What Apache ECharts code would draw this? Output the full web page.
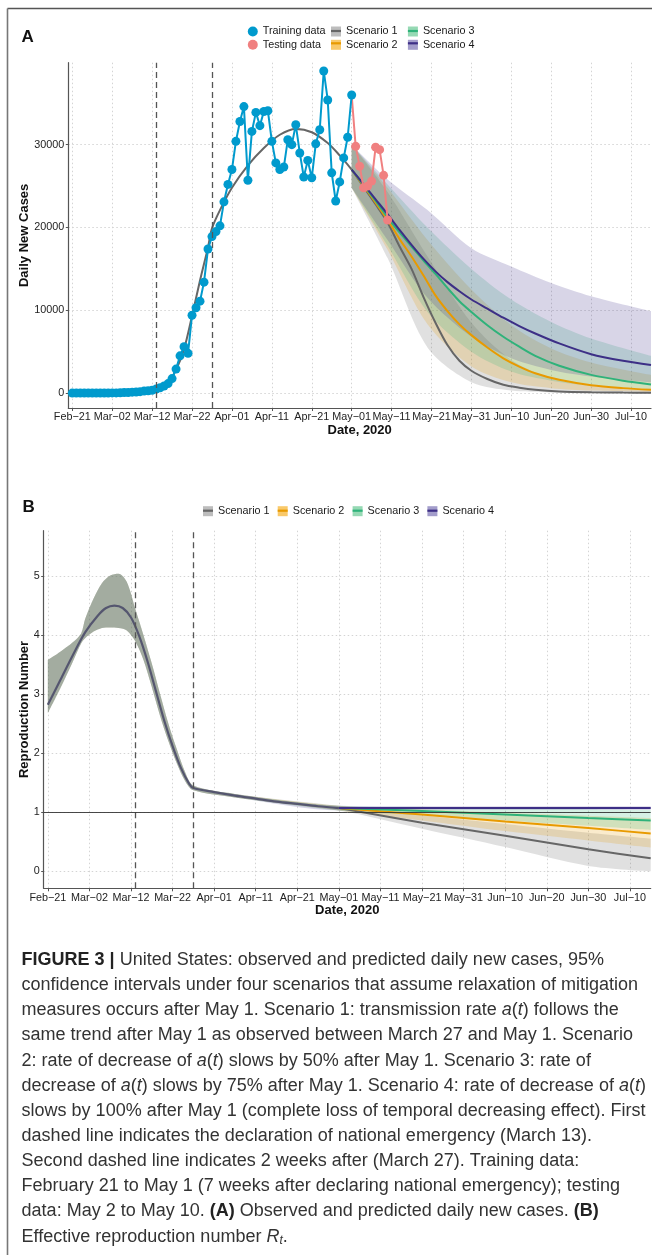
<!DOCTYPE html>
<html><head><meta charset="utf-8">
<script src="https://cdn.jsdelivr.net/npm/echarts@6/dist/echarts.min.js"></script>
<style>html,body{margin:0;padding:0;background:#fff}#c{width:652px;height:1255px}</style>
</head><body><div id="c"></div>
<script>
// ---------------- DATA ----------------
const tickLabels = ['Feb−21','Mar−02','Mar−12','Mar−22','Apr−01','Apr−11','Apr−21','May−01','May−11','May−21','May−31','Jun−10','Jun−20','Jun−30','Jul−10'];
const dashedDays = [21, 35]; // Mar 13, Mar 27 (days after Feb 21)

// Panel A: daily new cases; training = days 0..70 (Feb 21 .. May 1)
const trainingCases = [
  0, 1, 0, 0, 1, 2, 3, 5, 8, 12,
  20, 25, 30, 65, 75, 110, 130, 170, 240, 290, 330,
  480, 650, 850, 1150, 1750, 2900, 4500, 5600, 4800, 9400,
  10300, 11100, 13400, 17400, 18900, 19500, 20200, 23100, 25200, 27000,
  30400, 32800, 34600, 25700, 31600, 33900, 32300, 34000, 34100, 30400,
  27800, 27000, 27300, 30600, 30000, 32400, 29000, 26100, 28100, 26000,
  30100, 31800, 38900, 35400, 26600, 23200, 25500, 28400, 30900, 36000
];
// testing = days 71..79 (May 2 .. May 10)
const testingCases = [29800, 27400, 24800, 25000, 25600, 29700, 29400, 26300, 20900];

// fitted curve before May 1
const fitDays  = [0, 10, 16, 20, 22, 24, 26, 28, 30, 32, 34, 35, 37, 40, 44, 48, 52, 56, 60, 64, 67, 70];
const fitCases = [0, 20, 80, 250, 600, 1300, 2800, 5300, 9300, 13600, 17600, 19900, 22100, 24800, 27500, 29600, 31200, 31900, 31500, 30200, 28700, 27000];

// projections after May 1
const projDays = [70, 73, 76, 79, 82, 85, 88, 91, 94, 97, 100, 104, 108, 112, 116, 122, 130, 138, 145];
const s1Cases = [27000, 24900, 22800, 20600, 17700, 15000, 11600, 8500, 5800, 3900, 2700, 1700, 1000, 650, 400, 200, 100, 60, 40];
const s2Cases = [27000, 25000, 23000, 20900, 18600, 16500, 14200, 11800, 9900, 8300, 7000, 5500, 4200, 3200, 2400, 1600, 950, 600, 400];
const s3Cases = [27000, 25100, 23200, 21200, 19400, 17700, 16000, 14400, 12700, 11100, 9800, 8200, 6800, 5600, 4500, 3300, 2200, 1500, 1050];
const s4Cases = [27000, 25200, 23400, 21600, 19700, 17900, 16200, 14700, 13400, 12300, 11300, 10200, 9100, 8100, 7200, 6000, 4700, 3900, 3400];

// 95% bands, panel A
const bandDaysA = [70, 79, 89, 100, 110, 120, 130, 145];
const s1LowA  = [24800, 16300, 5500, 1300, 300, 80, 20, 0];
const s1HighA = [30000, 24300, 16500, 8500, 4000, 1800, 900, 400];
const s2LowA  = [24800, 17300, 8300, 3200, 1300, 600, 300, 150];
const s2HighA = [30000, 24800, 18500, 12500, 8200, 5400, 3700, 2200];
const s3LowA  = [24800, 17800, 9800, 5000, 2600, 1500, 900, 500];
const s3HighA = [30000, 25200, 20000, 15000, 11300, 8600, 6600, 4500];
const s4LowA  = [24800, 18500, 11500, 6800, 4200, 2800, 2000, 1300];
const s4HighA = [30000, 25800, 22100, 17500, 15300, 13300, 11700, 9900];

// Panel B: reproduction number, common part before May 1
const rtDays = [0, 3, 6, 9, 12, 14, 16, 18, 20, 22, 24, 26, 28, 30, 32, 34, 35, 40, 45, 50, 55, 60, 65, 70];
const rtLine = [2.82, 3.24, 3.66, 4.05, 4.33, 4.46, 4.50, 4.46, 4.30, 3.98, 3.55, 3.05, 2.55, 2.12, 1.75, 1.48, 1.41, 1.34, 1.28, 1.23, 1.18, 1.14, 1.10, 1.07];
const rtBandDays = [0, 3, 6, 8, 9, 11, 13, 15, 17, 19, 21, 23, 25, 27, 29, 31, 33, 35, 45, 70];
const rtLow  = [2.68, 3.10, 3.55, 3.86, 3.95, 4.06, 4.12, 4.13, 4.12, 4.08, 3.90, 3.58, 3.12, 2.63, 2.20, 1.83, 1.53, 1.37, 1.25, 1.03];
const rtHigh = [3.58, 3.72, 3.88, 4.03, 4.28, 4.62, 4.88, 5.01, 5.04, 4.90, 4.45, 4.00, 3.52, 3.00, 2.50, 2.07, 1.68, 1.45, 1.31, 1.11];
// after May 1
const projDaysB = [70, 90, 110, 130, 145];
const s1Rt = [1.07, 0.82, 0.60, 0.37, 0.22];
const s2Rt = [1.07, 0.96, 0.84, 0.73, 0.64];
const s3Rt = [1.07, 1.02, 0.96, 0.90, 0.86];
const s4Rt = [1.07, 1.07, 1.07, 1.07, 1.07];
const s1RtLow = [1.03, 0.72, 0.41, 0.09, 0.00], s1RtHigh = [1.11, 0.95, 0.80, 0.65, 0.55];
const s2RtLow = [1.03, 0.86, 0.68, 0.52, 0.40], s2RtHigh = [1.11, 1.05, 0.99, 0.94, 0.90];
const s3RtLow = [1.03, 0.95, 0.86, 0.77, 0.70], s3RtHigh = [1.11, 1.09, 1.07, 1.05, 1.04];
const s4RtLow = [1.03, 1.04, 1.04, 1.04, 1.04], s4RtHigh = [1.11, 1.10, 1.10, 1.10, 1.10];

const scenarioNames = ['Scenario 1', 'Scenario 2', 'Scenario 3', 'Scenario 4'];

// ---------------- STYLE ----------------
const FONT = "'Liberation Sans', Arial, Helvetica, sans-serif";
const C_TRAIN = '#009ACD', C_TEST = '#F08080';
const C_LINE = ['#666666', '#E89A00', '#2FB27A', '#3D2F86'];
const C_KEY  = ['#BDBDBD', '#F9C96A', '#96D9B4', '#A39DCB'];
const BAND_OP = 0.2;

// categories: one per day, Feb 20 .. Jul 15, 2020
const MONTHS = ['Jan','Feb','Mar','Apr','May','Jun','Jul','Aug','Sep','Oct','Nov','Dec'];
const categories = [];
for (let i = 0; i < 147; i++) {
  const d = new Date(Date.UTC(2020, 1, 20 + i));
  categories.push(MONTHS[d.getUTCMonth()] + '−' + String(d.getUTCDate()).padStart(2, '0'));
}
const idx = d => d + 1;
const pairs = (days, vals) => days.map((d, i) => [idx(d), vals[i]]);
const isTick = (i, v) => tickLabels.indexOf(v !== undefined ? v : categories[i]) >= 0;

function band(name, gi, days, lo, hi, color, stackId) {
  return [
    { type: 'line', name, xAxisIndex: gi, yAxisIndex: gi, stack: stackId, data: pairs(days, lo),
      symbol: 'none', smooth: 0.3, lineStyle: { width: 0, opacity: 0 }, silent: true, z: 1 },
    { type: 'line', name, xAxisIndex: gi, yAxisIndex: gi, stack: stackId, data: pairs(days, hi.map((h, i) => h - lo[i])),
      symbol: 'none', smooth: 0.3, lineStyle: { width: 0, opacity: 0 }, areaStyle: { color, opacity: BAND_OP }, silent: true, z: 1 }
  ];
}
function xAxisFor(gi, gap) {
  return {
    type: 'category', gridIndex: gi, data: categories, boundaryGap: false,
    axisLine: { show: true, onZero: false, lineStyle: { color: '#555', width: 1.2 } },
    axisTick: { show: true, interval: isTick, length: 3, lineStyle: { color: '#555' } },
    axisLabel: { interval: isTick, fontSize: 10.8, color: '#222', margin: 4, fontFamily: FONT },
    splitLine: { show: true, interval: isTick, lineStyle: { color: '#d4d4d4', type: [1.5, 2.5], width: 1 } },
    name: 'Date, 2020', nameLocation: 'middle', nameGap: gap, nameMoveOverlap: false,
    nameTextStyle: { fontWeight: 'bold', fontSize: 13, color: '#111', fontFamily: FONT }
  };
}
function yAxisFor(gi, min, max, split, name, gap) {
  return {
    type: 'value', gridIndex: gi, min, max, splitNumber: split,
    axisLine: { show: true, lineStyle: { color: '#555', width: 1.2 } },
    axisTick: { show: true, length: 2.5, lineStyle: { color: '#555' } },
    axisLabel: { showMinLabel: false, showMaxLabel: false, fontSize: 10.8, color: '#222', margin: 4,
                 fontFamily: FONT, formatter: v => String(v) },
    splitLine: { show: true, showMinLine: false, showMaxLine: false,
                 lineStyle: { color: '#d4d4d4', type: [1.5, 2.5], width: 1 } },
    name, nameLocation: 'middle', nameGap: gap, nameMoveOverlap: false,
    nameTextStyle: { fontWeight: 'bold', fontSize: 13, color: '#111', fontFamily: FONT }
  };
}
const dashed = {
  silent: true, symbol: ['none', 'none'], label: { show: false },
  lineStyle: { type: [6, 4], color: '#555', width: 1.3 },
  data: dashedDays.map(d => ({ xAxis: idx(d) }))
};

const series = [];
// ---- Panel A ----
const bandsA = [[s1LowA, s1HighA], [s2LowA, s2HighA], [s3LowA, s3HighA], [s4LowA, s4HighA]];
bandsA.forEach((b, k) => series.push(...band(scenarioNames[k], 0, bandDaysA, b[0], b[1], C_LINE[k], 'bandA' + k)));
[s1Cases, s2Cases, s3Cases, s4Cases].forEach((vals, k) => series.push({
  type: 'line', name: scenarioNames[k], xAxisIndex: 0, yAxisIndex: 0, data: pairs(projDays, vals),
  symbol: 'none', smooth: 0.3, lineStyle: { color: C_LINE[k], width: 2 }, itemStyle: { color: C_LINE[k] }, silent: true, z: 2
}));
series.push({
  type: 'line', name: 'Fitted', xAxisIndex: 0, yAxisIndex: 0, data: pairs(fitDays, fitCases),
  symbol: 'none', smooth: 0.3, lineStyle: { color: C_LINE[0], width: 2 }, silent: true, z: 2, markLine: dashed
});
series.push({
  type: 'line', name: 'Testing data', xAxisIndex: 0, yAxisIndex: 0,
  data: [{ value: [idx(70), trainingCases[70]], symbol: 'none' }].concat(testingCases.map((v, i) => [idx(71 + i), v])),
  symbol: 'circle', symbolSize: 9, showAllSymbol: true,
  itemStyle: { color: C_TEST }, lineStyle: { color: C_TEST, width: 2 }, silent: true, z: 3
});
series.push({
  type: 'line', name: 'Training data', xAxisIndex: 0, yAxisIndex: 0,
  data: trainingCases.map((v, d) => [idx(d), v]),
  symbol: 'circle', symbolSize: 9, showAllSymbol: true,
  itemStyle: { color: C_TRAIN }, lineStyle: { color: C_TRAIN, width: 2 }, silent: true, z: 4
});
// ---- Panel B ----
const postB = [[s1RtLow, s1RtHigh, s1Rt], [s2RtLow, s2RtHigh, s2Rt], [s3RtLow, s3RtHigh, s3Rt], [s4RtLow, s4RtHigh, s4Rt]];
const preBandDays = rtBandDays.slice(0, -1);
postB.forEach((b, k) => {
  series.push(...band(scenarioNames[k], 1, preBandDays.concat(projDaysB),
    rtLow.slice(0, -1).concat(b[0]), rtHigh.slice(0, -1).concat(b[1]), C_LINE[k], 'bandB' + k));
});
postB.forEach((b, k) => series.push({
  type: 'line', name: scenarioNames[k], xAxisIndex: 1, yAxisIndex: 1, data: pairs(projDaysB, b[2]),
  symbol: 'none', smooth: 0.2, lineStyle: { color: C_LINE[k], width: 2 }, silent: true, z: 2
}));
series.push({
  type: 'line', name: 'Rt fitted', xAxisIndex: 1, yAxisIndex: 1, data: pairs(rtDays, rtLine),
  symbol: 'none', smooth: 0.3, lineStyle: { color: '#55566f', width: 2.2 }, silent: true, z: 3,
  markLine: {
    silent: true, symbol: ['none', 'none'], label: { show: false },
    data: [
      ...dashedDays.map(d => ({ xAxis: idx(d), lineStyle: { type: [6, 4], color: '#555', width: 1.3 } })),
      { yAxis: 1, lineStyle: { type: 'solid', color: '#333', width: 0.9 } }
    ]
  }
});

// ---------------- LEGENDS ----------------
const legText = { fontSize: 10.8, color: '#1a1a1a', fontFamily: FONT };
function leg(left, top, items, orient) {
  return { left, top, orient: orient || 'vertical', padding: 0, itemWidth: 10, itemHeight: 10, itemGap: 2.3,
           selectedMode: false, textStyle: legText, data: items };
}
const keyItem = k => ({ name: scenarioNames[k], icon: 'rect', itemStyle: { color: C_KEY[k], borderWidth: 0 } });
const legends = [
  leg(247.8, 26, [{ name: 'Training data', icon: 'circle', itemStyle: { color: C_TRAIN } },
                  { name: 'Testing data', icon: 'circle', itemStyle: { color: C_TEST } }]),
  leg(331, 26, [keyItem(0), keyItem(1)]),
  leg(407.9, 26, [keyItem(2), keyItem(3)]),
  leg(203, 505.7, [keyItem(0)], 'horizontal'),
  leg(277.7, 505.7, [keyItem(1)], 'horizontal'),
  leg(352.6, 505.7, [keyItem(2)], 'horizontal'),
  leg(427.4, 505.7, [keyItem(3)], 'horizontal')
];
const keyLines = [[331, 31, 0], [331, 43.3, 1], [407.9, 31, 2], [407.9, 43.3, 3],
                  [203, 510.7, 0], [277.7, 510.7, 1], [352.6, 510.7, 2], [427.4, 510.7, 3]]
  .map(([x, y, k]) => ({ type: 'rect', z: 100, shape: { x, y: y - 1.1, width: 10, height: 2.2 }, style: { fill: C_LINE[k] } }));

// ---------------- CAPTION ----------------
const captionLines = [
  '{b|FIGURE 3 |}{n| United States: observed and predicted daily new cases, 95%}',
  '{n|confidence intervals under four scenarios that assume relaxation of mitigation}',
  '{n|measures occurs after May 1. Scenario 1: transmission rate }{i|a}{n|(}{i|t}{n|) follows the}',
  '{n|same trend after May 1 as observed between March 27 and May 1. Scenario}',
  '{n|2: rate of decrease of }{i|a}{n|(}{i|t}{n|) slows by 50% after May 1. Scenario 3: rate of}',
  '{n|decrease of }{i|a}{n|(}{i|t}{n|) slows by 75% after May 1. Scenario 4: rate of decrease of }{i|a}{n|(}{i|t}{n|)}',
  '{n|slows by 100% after May 1 (complete loss of temporal decreasing effect). First}',
  '{n|dashed line indicates the declaration of national emergency (March 13).}',
  '{n|Second dashed line indicates 2 weeks after (March 27). Training data:}',
  '{n|February 21 to May 1 (7 weeks after declaring national emergency); testing}',
  '{n|data: May 2 to May 10. }{b|(A)}{n| Observed and predicted daily new cases. }{b|(B)}',
  '{n|Effective reproduction number }{i|R}{sub|t}{n|.}'
];
const CAP_FS = 18, CAP_COLOR = '#333';
const capRich = {
  n: { fontSize: CAP_FS, fontFamily: FONT, fill: CAP_COLOR },
  b: { fontSize: CAP_FS, fontFamily: FONT, fill: '#222', fontWeight: 'bold' },
  i: { fontSize: CAP_FS, fontFamily: FONT, fill: CAP_COLOR, fontStyle: 'italic' },
  sub: { fontSize: 12, fontFamily: FONT, fill: CAP_COLOR, fontStyle: 'italic', padding: [9, 0, 0, 0] }
};
const captionEls = captionLines.map((t, i) => ({
  type: 'text', x: 21.6, y: 960 + i * 25.15, z: 100,
  style: { text: t, rich: capRich, fontSize: CAP_FS, fontFamily: FONT, fill: CAP_COLOR, verticalAlign: 'middle' }
}));

const option = {
  animation: false,
  backgroundColor: '#fff',
  grid: [
    { left: 68.3, top: 62.7, width: 582.7, height: 345.3, outerBoundsMode: 'none' },
    { left: 43.7, top: 530.7, width: 607, height: 357.6, outerBoundsMode: 'none' }
  ],
  xAxis: [xAxisFor(0, 15.5), xAxisFor(1, 15.5)],
  yAxis: [yAxisFor(0, -1800, 39900, 4, 'Daily New Cases', 37), yAxisFor(1, -0.29, 5.77, 6, 'Reproduction Number', 12.5)],
  legend: legends,
  series,
  graphic: [
    { type: 'line', z: 100, shape: { x1: 7.5, y1: 8.5, x2: 652, y2: 8.5 }, style: { stroke: '#555', lineWidth: 1.6 } },
    { type: 'line', z: 100, shape: { x1: 7.5, y1: 8.5, x2: 7.5, y2: 1255 }, style: { stroke: '#777', lineWidth: 1.6 } },
    { type: 'text', z: 100, x: 21.5, y: 37, style: { text: 'A', fontSize: 17, fontWeight: 'bold', fontFamily: FONT, fill: '#111', verticalAlign: 'middle' } },
    { type: 'text', z: 100, x: 22.5, y: 507, style: { text: 'B', fontSize: 17, fontWeight: 'bold', fontFamily: FONT, fill: '#111', verticalAlign: 'middle' } },
    ...keyLines,
    ...captionEls
  ]
};
const chart = echarts.init(document.getElementById('c'), null, { renderer: 'canvas', width: 652, height: 1255 });
chart.setOption(option);
</script></body></html>
